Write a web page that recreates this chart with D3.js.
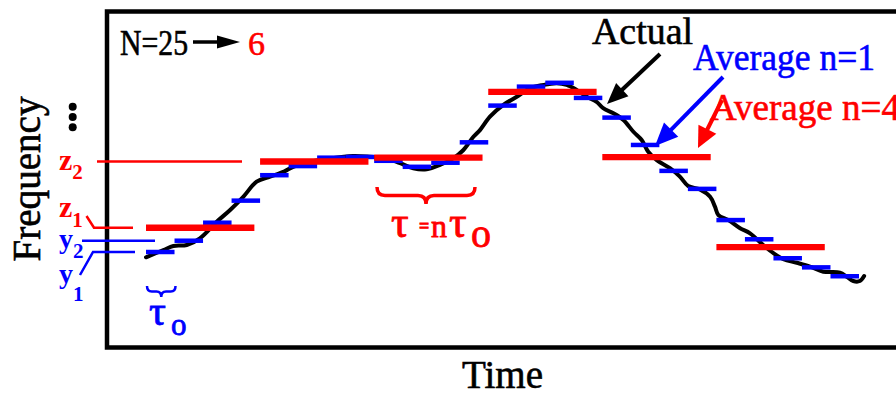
<!DOCTYPE html>
<html><head><meta charset="utf-8">
<script src="https://cdn.jsdelivr.net/npm/d3@7"></script>
<style>html,body{margin:0;padding:0;background:#fff;}svg{display:block;}</style>
</head><body>
<svg id="c" width="896" height="398"></svg>
<script>
// ---- data (time in units of tau0, frequency in arbitrary units) ----
const actualT = [0.00,0.61,0.96,1.43,1.89,2.48,2.95,3.41,3.88,4.35,4.84,5.16,5.75,6.45,7.26,7.85,8.44,8.91,9.37,9.84,10.31,10.77,11.13,11.48,11.71,12.06,12.53,13.00,13.46,13.93,14.40,14.75,15.10,15.45,15.80,16.03,16.39,16.74,17.09,17.38,17.61,17.91,18.37,18.72,19.01,19.42,19.78,19.95,20.07,20.42,20.83,21.18,21.64,22.00,22.35,22.82,23.28,23.75,24.33,24.57,24.80,25.03,25.18];
const actualF = [1.78,2.08,2.25,2.29,2.57,3.26,3.75,4.30,4.93,5.14,5.35,5.55,5.76,5.90,6.00,5.97,5.90,5.70,5.49,5.45,5.63,5.90,6.25,6.80,7.08,7.64,8.13,8.47,8.82,8.96,9.03,8.96,8.75,8.47,8.26,7.99,7.78,7.50,7.01,6.67,6.18,5.83,5.49,5.14,4.75,4.61,4.30,3.89,3.54,3.33,2.99,2.78,2.29,1.95,1.70,1.55,1.39,1.18,1.14,0.97,0.79,0.79,1.00];
const avgN1 = [2.00,2.47,3.22,4.14,5.20,5.58,5.93,5.96,5.80,5.55,5.72,6.57,8.10,8.89,9.05,8.42,7.60,6.46,5.38,4.63,3.33,2.53,1.74,1.36,0.99];
const avgN4 = [3.01,5.77,5.93,8.67,5.95,2.20];
const n1 = 1, n4 = 4;
const N = 25, N4 = 6;

const svg = d3.select("#c");
const x = d3.scaleLinear().domain([0, 25]).range([146, 859]);
const y = d3.scaleLinear().domain([0, 10]).range([300, 60]);
const RED = "#ff0000", BLUE = "#0000ff";
const FONT = '"Liberation Serif", "Times New Roman", serif';

// frame
svg.append("rect").attr("x",107).attr("y",11.5).attr("width",820).attr("height",336)
  .attr("fill","none").attr("stroke","#000").attr("stroke-width",4.5);

// actual curve
const pts = actualT.map((t,i)=>[t, actualF[i]]);
svg.append("path").datum(pts)
  .attr("d", d3.line().x(d=>x(d[0])).y(d=>y(d[1])).curve(d3.curveCatmullRom.alpha(0.5)))
  .attr("fill","none").attr("stroke","#000").attr("stroke-width",4).attr("stroke-linejoin","round").attr("stroke-linecap","round");

// n=1 averages
svg.selectAll(".b").data(avgN1).enter().append("line")
  .attr("x1",(d,i)=>x(i*n1)).attr("x2",(d,i)=>x(i*n1+n1))
  .attr("y1",d=>y(d)).attr("y2",d=>y(d))
  .attr("stroke",BLUE).attr("stroke-width",4.5);

// n=4 averages
svg.selectAll(".r").data(avgN4).enter().append("line")
  .attr("x1",(d,i)=>x(i*n4)).attr("x2",(d,i)=>x(i*n4+n4-0.2))
  .attr("y1",d=>y(d)).attr("y2",d=>y(d))
  .attr("stroke",RED).attr("stroke-width",6.3);

// arrows
function arrow(x1,y1,x2,y2,col,w,L,H){
  const a = Math.atan2(y2-y1,x2-x1), c=Math.cos(a), s=Math.sin(a);
  const bx = x2 - L*c, by = y2 - L*s;
  svg.append("line").attr("x1",x1).attr("y1",y1).attr("x2",bx+2*c).attr("y2",by+2*s)
    .attr("stroke",col).attr("stroke-width",w);
  svg.append("path").attr("d",`M${x2},${y2}L${bx - H*s},${by + H*c}L${bx + H*s},${by - H*c}Z`).attr("fill",col);
}
arrow(193,42,240,42,"#000",3.5,23,6.5);
arrow(660,54,607,104,"#000",4,21,9);
arrow(723,77,655,146,BLUE,4,23,10);
arrow(722,100,698,148,RED,4,21,10);

// texts
function txt(s,px,py,size,col,len,anchor){
  const t = svg.append("text").attr("x",px).attr("y",py).style("font-family",FONT)
    .attr("font-size",size).attr("fill",col).attr("stroke",col).attr("stroke-width",0.6).text(s);
  if(len) t.attr("textLength",len).attr("lengthAdjust","spacingAndGlyphs");
  if(anchor) t.attr("text-anchor",anchor);
  return t;
}
txt(`N=${N}`,120,55,35,"#000",68);
txt(`${N4}`,248,55,34,RED);
txt("Actual",592,44,38,"#000",101);
txt(`Average n=${n1}`,693,70,38,BLUE,182);
txt(`Average n=${n4}`,710,120,38,RED,190);
txt("Time",462,388,39,"#000",81);
svg.append("text").attr("transform","translate(40,179) rotate(-90)").style("font-family",FONT)
  .attr("text-anchor","middle").attr("font-size",39).attr("fill","#000").attr("stroke","#000").attr("stroke-width",0.6)
  .attr("textLength",165).attr("lengthAdjust","spacingAndGlyphs").text("Frequency");

// vertical dots
svg.selectAll(".dot").data([0,1,2]).enter().append("circle")
  .attr("cx",72.7).attr("cy",d=>106.7+d*10.3).attr("r",4).attr("fill","#000");

// left-side labels
function sub(base,s,px,py,dy,col,bs){
  const t = svg.append("text").attr("x",px).attr("y",py).style("font-family",FONT).attr("fill",col).attr("font-weight","bold");
  t.append("tspan").attr("font-size",bs).text(base);
  t.append("tspan").attr("font-size",21).attr("dy",dy).text(s);
}
sub("z","2",59,170,8.5,RED,30);
sub("z","1",59,216.5,10,RED,30);
sub("y","2",59,248,10,BLUE,28);
sub("y","1",59,283,18,BLUE,28);

const yz2 = y(avgN4[1]), yz1 = y(avgN4[0]), yy2 = y(avgN1[1]), yy1 = y(avgN1[0]);
svg.append("line").attr("x1",97).attr("x2",242).attr("y1",yz2).attr("y2",yz2).attr("stroke",RED).attr("stroke-width",2.5);
svg.append("path").attr("d",`M86.5,216L94,${yz1}L133,${yz1}`).attr("fill","none").attr("stroke",RED).attr("stroke-width",2.5);
svg.append("line").attr("x1",82).attr("x2",155).attr("y1",yy2).attr("y2",yy2).attr("stroke",BLUE).attr("stroke-width",2.5);
svg.append("path").attr("d",`M80,275L93,${yy1}L135,${yy1}`).attr("fill","none").attr("stroke",BLUE).attr("stroke-width",2.5);

// braces
function brace(x0,x1,y0,d,col,w){
  const xm=(x0+x1)/2, ym=y0+d/2, r=Math.min(8,(x1-x0)/6);
  svg.append("path").attr("d",
    `M${x0},${y0}Q${x0},${ym} ${x0+r},${ym}L${xm-r},${ym}Q${xm},${ym} ${xm},${y0+d}Q${xm},${ym} ${xm+r},${ym}L${x1-r},${ym}Q${x1},${ym} ${x1},${y0}`)
    .attr("fill","none").attr("stroke",col).attr("stroke-width",w);
}
brace(x(0)+1, x(1)+1, 286, 11, BLUE, 2.5);
brace(377, 475, 187, 17, RED, 3.5);

// tau labels
const tr = svg.append("g").style("font-family",FONT).attr("fill",RED).attr("stroke",RED).attr("stroke-width",0.8);
tr.append("text").attr("x",391).attr("y",237).attr("font-size",44).text("τ");
tr.append("text").attr("x",419).attr("y",232).attr("font-size",18).attr("font-weight","bold").text("=");
tr.append("text").attr("x",431).attr("y",237).attr("font-size",32).text("n");
tr.append("text").attr("x",449).attr("y",237).attr("font-size",44).text("τ");
tr.append("text").attr("x",471).attr("y",246.5).attr("font-size",40).text("o");
const tb = svg.append("g").style("font-family",FONT).attr("fill",BLUE).attr("stroke",BLUE).attr("stroke-width",0.8);
tb.append("text").attr("x",149).attr("y",325).attr("font-size",42).text("τ");
tb.append("text").attr("x",171).attr("y",335).attr("font-size",31).text("o");
</script>
</body></html>
